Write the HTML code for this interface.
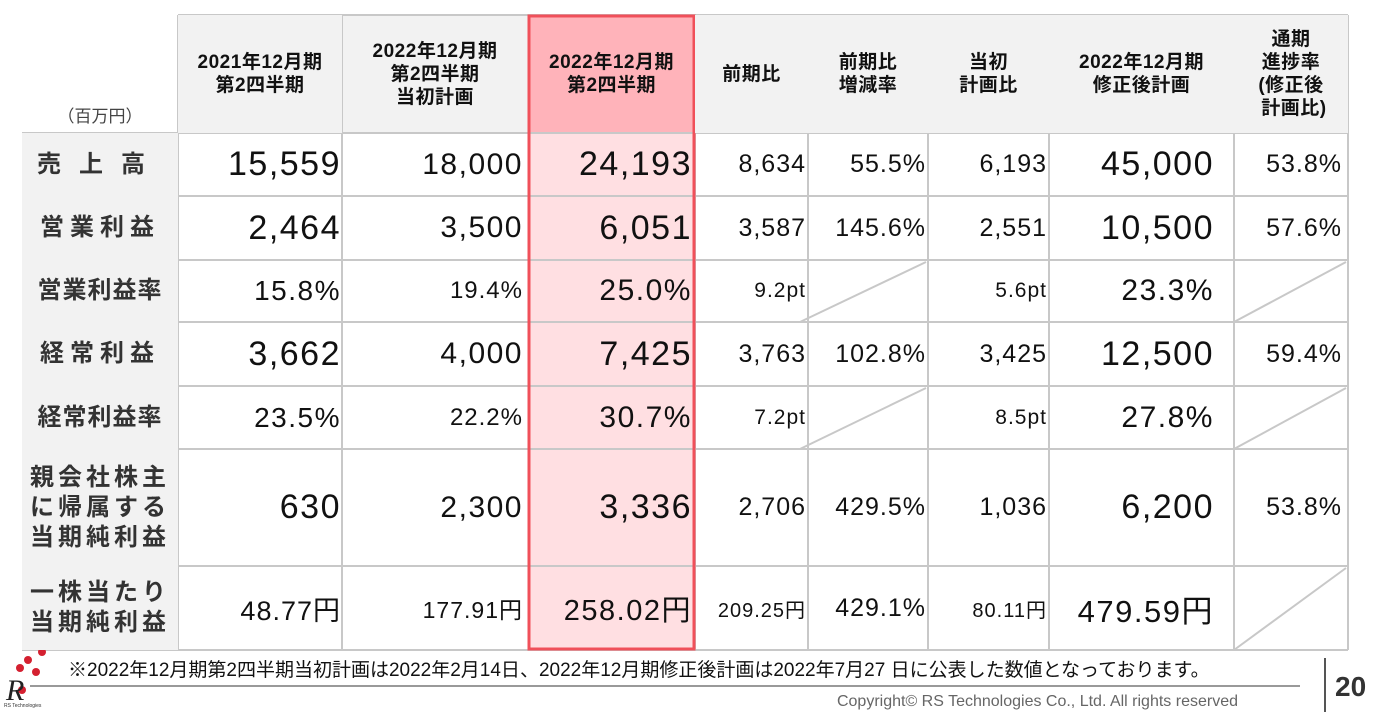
<!DOCTYPE html>
<html><head><meta charset="utf-8"><style>
body{margin:0;width:1381px;height:712px;background:#fff;position:relative;overflow:hidden;font-family:"Liberation Sans","Noto Sans CJK JP",sans-serif;color:#111}
.c{position:absolute;box-sizing:border-box;display:flex;align-items:center;justify-content:flex-end;white-space:nowrap}
.h{justify-content:center;text-align:center;font-weight:bold;font-size:19px;line-height:23px;letter-spacing:0.5px;background:#f2f2f2}
.l{justify-content:center;font-weight:bold;font-size:24px;background:#f2f2f2;letter-spacing:4px;text-align:center;line-height:30px;color:#333}
</style></head><body>
<svg width="1381" height="712" style="position:absolute;left:0;top:0">
<rect x="178" y="15" width="1170" height="118" fill="#f2f2f2"/>
<rect x="22" y="133" width="156" height="517" fill="#f2f2f2"/>
<rect x="528" y="15" width="167" height="118" fill="#ffb3ba"/>
<rect x="528" y="133" width="167" height="517" fill="#ffdfe2"/>
<g stroke="#c8c8c8" stroke-width="2" fill="none">
<line x1="178" y1="15" x2="1348" y2="15"/>
<line x1="22" y1="133" x2="1348" y2="133"/>
<line x1="22" y1="196" x2="1348" y2="196"/>
<line x1="22" y1="260" x2="1348" y2="260"/>
<line x1="22" y1="322" x2="1348" y2="322"/>
<line x1="22" y1="386" x2="1348" y2="386"/>
<line x1="22" y1="449" x2="1348" y2="449"/>
<line x1="22" y1="566" x2="1348" y2="566"/>
<line x1="22" y1="650" x2="1348" y2="650"/>
<line x1="178" y1="15" x2="178" y2="650"/>
<line x1="342" y1="15" x2="342" y2="650"/>
<line x1="695" y1="15" x2="695" y2="650"/>
<line x1="808" y1="15" x2="808" y2="650"/>
<line x1="928" y1="15" x2="928" y2="650"/>
<line x1="1049" y1="15" x2="1049" y2="650"/>
<line x1="1234" y1="15" x2="1234" y2="650"/>
<line x1="1348" y1="15" x2="1348" y2="650"/>
<line x1="800" y1="322" x2="926" y2="262"/>
<line x1="800" y1="449" x2="926" y2="388"/>
<line x1="1234" y1="322" x2="1346" y2="262"/>
<line x1="1234" y1="449" x2="1346" y2="388"/>
<line x1="1234" y1="650" x2="1346" y2="568"/>
</g>
<rect x="529" y="16" width="165" height="633" fill="none" stroke="#f0505a" stroke-width="3"/>
<line x1="30" y1="686" x2="1300" y2="686" stroke="#999" stroke-width="2"/>
<line x1="1325" y1="658" x2="1325" y2="712" stroke="#555" stroke-width="2"/>
<circle cx="42" cy="652" r="4" fill="#d42030"/><circle cx="28" cy="660" r="4" fill="#d42030"/><circle cx="20" cy="668" r="4" fill="#d42030"/><circle cx="36" cy="672" r="4" fill="#d42030"/><circle cx="22" cy="690" r="4" fill="#d42030"/>
<text x="6" y="700" font-family="Liberation Serif" font-style="italic" font-size="30" fill="#222">R</text>
<text x="4" y="707" font-size="5" fill="#333">RS Technologies</text>
</svg>
<div class="c" style="left:22px;top:95px;width:156px;height:38px;justify-content:center;font-size:17px;color:#444">（百万円）</div>
<div class="c h" style="left:178px;top:15px;width:164px;height:118px">2021年12月期<br>第2四半期</div>
<div class="c h" style="left:342px;top:15px;width:186px;height:118px;background:none">2022年12月期<br>第2四半期<br>当初計画</div>
<div class="c h" style="left:528px;top:15px;width:167px;height:118px;background:none">2022年12月期<br>第2四半期</div>
<div class="c h" style="left:695px;top:15px;width:113px;height:118px">前期比</div>
<div class="c h" style="left:808px;top:15px;width:120px;height:118px">前期比<br>増減率</div>
<div class="c h" style="left:928px;top:15px;width:121px;height:118px">当初<br>計画比</div>
<div class="c h" style="left:1049px;top:15px;width:185px;height:118px">2022年12月期<br>修正後計画</div>
<div class="c h" style="left:1234px;top:15px;width:114px;height:118px">通期<br>進捗率<br>(修正後<br>&nbsp;計画比)</div>

<div class="c l" style="left:22px;top:133px;width:156px;height:63px;letter-spacing:18px">売上高</div>
<div class="c l" style="left:22px;top:196px;width:156px;height:64px;letter-spacing:6px">営業利益</div>
<div class="c l" style="left:22px;top:260px;width:156px;height:62px;letter-spacing:1px">営業利益率</div>
<div class="c l" style="left:22px;top:322px;width:156px;height:64px;letter-spacing:6px">経常利益</div>
<div class="c l" style="left:22px;top:386px;width:156px;height:63px;letter-spacing:1px">経常利益率</div>
<div class="c l" style="left:22px;top:449px;width:156px;height:117px">親会社株主<br>に帰属する<br>当期純利益</div>
<div class="c l" style="left:22px;top:566px;width:156px;height:84px">一株当たり<br>当期純利益</div>

<div id="g"></div>
<script>
var cols=[[178,341,32],[342,523,28],[528,692,32],[695,806,24],[808,926,24],[928,1047,24],[1049,1214,32],[1234,1342,24]];
var rows=[[133,63],[196,64],[260,62],[322,64],[386,63],[449,117],[566,84]];
var d=[
["15,559","18,000","24,193","8,634","55.5%","6,193","45,000","53.8%"],
["2,464","3,500","6,051","3,587","145.6%","2,551","10,500","57.6%"],
["15.8%","19.4%","25.0%","9.2pt","","5.6pt","23.3%",""],
["3,662","4,000","7,425","3,763","102.8%","3,425","12,500","59.4%"],
["23.5%","22.2%","30.7%","7.2pt","","8.5pt","27.8%",""],
["630","2,300","3,336","2,706","429.5%","1,036","6,200","53.8%"],
["48.77円","177.91円","258.02円","209.25円","429.1%","80.11円","479.59円",""]];
var fsz=[[34,30,34,25,25,25,34,25],[34,30,34,25,25,25,34,25],[28,24,30,21,25,21,30,25],[34,30,34,25,25,25,34,25],[28,24,30,21,25,21,30,25],[34,30,34,25,25,25,34,25],[27,23,29,20,25,20,31,25]];
var h="";
for(var r=0;r<7;r++)for(var c=0;c<8;c++){if(!d[r][c])continue;
h+='<div class="c" style="letter-spacing:'+(fsz[r][c]>=28?1.5:1)+'px;left:'+cols[c][0]+'px;top:'+rows[r][0]+'px;width:'+(cols[c][1]-cols[c][0])+'px;height:'+rows[r][1]+'px;font-size:'+fsz[r][c]+'px">'+d[r][c]+'</div>';}
document.getElementById("g").innerHTML=h;
</script>
<div class="c" style="left:68px;top:656px;height:24px;font-size:19px;justify-content:flex-start">※2022年12月期第2四半期当初計画は2022年2月14日、2022年12月期修正後計画は2022年7月27 日に公表した数値となっております。</div>
<div class="c" style="left:700px;top:692px;width:538px;height:20px;font-size:16px;color:#666">Copyright© RS Technologies Co., Ltd. All rights reserved</div>
<div class="c" style="left:1335px;top:670px;height:34px;font-size:28px;font-weight:bold;color:#333">20</div>
</body></html>
